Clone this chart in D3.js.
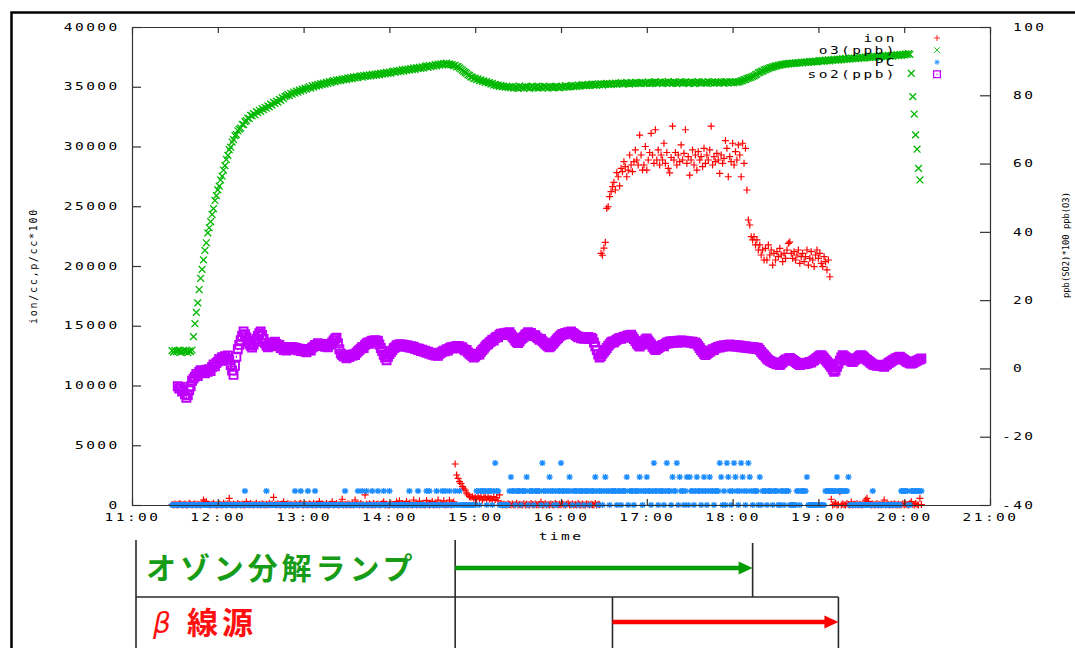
<!DOCTYPE html>
<html>
<head>
<meta charset="utf-8">
<script src="https://cdn.jsdelivr.net/npm/d3@7"></script>
<style>
body { margin: 0; background: #fff; }
svg { display: block; }
</style>
</head>
<body>
<div id="chart"></div>
<script>
var W = 1075, H = 648;
var margin = {left: 132, right: 85, top: 27, bottom: 143};

// one sample per minute, first sample at 11:28
var sampleStart = "11:28";

// ion/cc
var ionValues = [
  // 11:28-11:59
  40,0,80,20,0,120,60,0,30,90,10,0,150,70,0,40,110,0,60,20,0,180,420,250,280,90,30,0,60,140,20,0,
  // 12:00
  0,90,30,0,140,60,0,100,560,40,0,80,20,0,130,50,0,90,10,0,280,60,0,120,30,0,70,150,0,40,
  0,110,20,0,60,0,140,30,80,640,50,0,100,20,0,90,280,0,40,130,0,60,10,0,120,30,0,80,150,20,
  // 13:00
  0,70,30,0,110,50,0,140,20,0,60,300,0,90,30,0,120,10,0,80,280,0,50,130,0,20,90,480,0,60,
  0,110,30,0,150,0,420,40,80,0,120,20,0,840,60,0,100,30,0,140,0,50,90,0,20,130,280,0,60,10,
  // 14:00
  0,100,40,0,70,280,0,350,20,120,0,60,300,0,150,30,0,420,90,0,40,330,0,110,20,0,380,60,0,140,
  300,0,80,20,410,0,130,50,350,0,90,30,400,0,120,260,3430,2510,2230,1950,1810,1530,1400,1250,1000,850,700,640,700,560,
  // 15:00
  620,480,750,530,680,400,590,720,450,640,500,560,380,700,460,620,350,840,120,0,60,20,0,110,40,0,90,0,30,140,
  0,50,20,0,100,0,70,30,0,120,40,0,90,20,0,60,250,0,30,110,0,40,0,80,20,0,130,50,0,70,
  // 16:00
  0,100,30,0,60,140,0,20,90,0,50,0,120,30,0,80,10,0,110,40,0,70,20,0,130,0,60,30,
  21060,20900,21500,21980,24830,24960,25800,26220,26640,27000,26360,27810,27470,26700,28170,27890,
  28730,28310,27470,28030,29290,28450,27890,28730,29710,28870,28450,30960,29290,28030,28450,30000,
  // 17:00
  28030,28870,29500,31100,29290,28590,31400,28870,29710,28450,29290,28870,30270,28590,29500,28170,27800,29080,31700,28870,
  29500,28450,29290,28730,30130,28870,29430,31400,28590,29150,27600,28870,29710,28450,29290,28030,29570,28870,29150,28310,
  29850,28590,29290,28870,29710,31700,28450,29150,28730,29430,28870,27750,29290,28590,29010,30500,29850,27470,29150,28730,
  // 18:00
  30270,28450,29570,28870,30130,29290,27470,30270,28590,29850,26360,23850,23430,22450,22180,22450,21760,22180,21340,21760,
  20920,21340,20500,21480,20500,21760,20920,21340,20080,21060,20500,21200,20780,21480,20920,20360,21060,20640,21340,21900,
  22000,21060,20640,21200,20500,20920,21340,20220,20780,21060,20360,20780,21340,20080,20640,21200,20500,19950,20920,21340,
  // 19:00
  20640,21060,20220,19950,20780,20360,19670,20500,19100,
  480,0,60,140,0,30,1110,0,90,20,0,120,50,0,250,0,80,30,110,0,60,0,20,140,410,560,300,40,0,90,
  0,20,120,0,50,0,80,420,0,140,30,0,60,0,100,20,0,70,0,30,110,
  // 20:00
  0,80,20,0,150,280,60,0,120,30,0,560,40
];

// o3 in ppb (right axis)
var o3Values = [
  // 11:28-11:59
  5.2,4.8,5.3,4.9,5.1,5.4,4.7,5.0,5.3,4.9,5.2,4.6,5.1,5.0,5.4,
  9.3,13.1,16.4,19.2,23.1,26.4,29.0,31.8,34.6,36.8,39.7,41.2,43.0,45.1,46.8,49.2,50.6,
  // 12:00
  52.3,53.4,55.2,56.3,58.1,59.4,61.2,62.4,64.1,64.8,66.3,67.0,68.2,68.5,69.6,70.1,70.4,71.5,71.4,72.3,
  72.6,73.3,73.2,74.1,74.0,74.6,74.3,75.2,74.9,75.6,75.3,76.1,75.8,76.5,76.2,76.9,76.6,77.4,77.1,77.9,
  77.6,78.3,78.0,78.8,78.5,79.3,79.0,79.6,79.9,80.3,79.9,80.6,80.3,80.9,80.6,81.2,80.9,81.5,81.2,81.8,
  // 13:00
  81.5,82.0,81.8,82.2,82.5,82.1,82.8,82.4,83.0,82.7,83.2,82.9,83.4,83.1,83.6,83.3,83.8,83.5,84.0,83.7,
  84.1,84.3,83.9,84.5,84.2,84.6,84.3,84.8,84.5,84.9,84.6,85.1,84.8,85.2,84.9,85.4,85.1,85.5,85.2,85.5,
  85.7,85.3,85.8,85.5,85.9,85.6,86.0,85.7,86.1,85.8,86.2,85.9,86.3,86.0,86.5,86.2,86.6,86.3,86.7,86.4,
  // 14:00
  86.8,86.5,86.9,87.1,86.7,87.2,86.9,87.3,87.0,87.5,87.1,87.6,87.3,87.7,87.4,87.8,87.5,88.0,87.6,88.1,
  87.8,88.2,87.9,88.3,88.0,88.4,88.6,88.2,88.7,88.4,88.8,88.5,89.0,88.6,89.1,88.8,89.2,88.9,89.3,89.1,
  89.4,89.0,89.2,88.9,89.0,88.6,88.8,88.3,88.4,88.0,87.7,87.4,87.0,86.7,86.4,86.0,85.8,85.4,85.3,84.9,
  // 15:00
  85.0,84.6,84.8,84.3,84.5,84.1,84.2,83.8,84.0,83.6,83.7,83.3,83.5,83.0,83.2,82.8,83.0,82.6,82.9,82.5,
  82.7,82.4,82.6,82.3,82.5,82.2,82.6,82.1,82.5,82.3,82.0,82.7,82.2,82.4,82.1,82.6,82.3,82.5,82.0,82.4,
  82.7,82.2,82.3,82.6,82.1,82.5,82.4,82.2,82.7,82.3,82.5,82.1,82.6,82.4,82.2,82.5,82.3,82.7,82.4,82.2,
  // 16:00
  82.6,82.5,82.3,82.8,82.4,82.6,82.5,82.6,82.9,82.5,82.8,82.6,83.0,82.7,82.9,83.1,82.8,83.0,82.8,83.2,
  82.9,83.1,83.3,82.9,83.2,83.0,83.3,83.1,83.4,83.0,83.3,83.2,83.5,83.1,83.4,83.2,83.5,83.3,83.6,83.2,
  83.5,83.4,83.7,83.3,83.6,83.4,83.7,83.5,83.3,83.7,83.5,83.4,83.8,83.6,83.5,83.7,83.4,83.8,83.6,83.5,
  // 17:00
  83.6,83.9,83.4,83.8,83.5,83.7,84.0,83.5,83.8,83.6,83.9,83.4,83.7,83.8,83.5,84.0,83.6,83.8,83.5,83.9,
  83.7,83.4,83.8,83.6,84.0,83.5,83.7,83.9,83.6,83.8,83.5,83.9,83.7,83.4,83.8,83.6,84.0,83.7,83.5,83.9,
  83.6,83.8,83.5,84.0,83.7,83.6,83.9,83.5,83.8,83.7,83.9,83.6,84.0,83.7,83.5,83.9,83.8,83.6,84.0,83.7,
  // 18:00
  83.9,83.6,84.0,83.8,83.9,84.0,84.2,84.3,84.6,84.6,84.9,85.0,85.2,85.3,85.5,85.7,86.0,86.2,86.6,86.7,
  87.0,87.1,87.4,87.5,87.7,87.8,88.1,88.1,88.3,88.4,88.6,88.6,88.8,88.8,89.0,89.0,89.1,89.1,89.3,89.2,
  89.4,89.2,89.5,89.3,89.5,89.4,89.6,89.4,89.7,89.5,89.7,89.6,89.8,89.6,89.9,89.7,89.9,89.8,90.0,89.8,
  // 19:00
  90.0,90.2,89.9,90.2,90.0,90.3,90.1,90.4,90.1,90.4,90.2,90.5,90.3,90.6,90.3,90.6,90.4,90.7,90.5,90.8,
  90.5,90.8,90.6,90.9,90.7,90.9,90.7,91.0,90.8,91.1,90.9,91.1,90.9,91.2,91.0,91.3,91.0,91.3,91.1,91.4,
  91.2,91.4,91.2,91.5,91.3,91.6,91.3,91.6,91.4,91.7,91.5,91.7,91.5,91.8,91.6,91.9,91.6,91.9,91.7,92.0,
  // 20:00
  91.8,92.1,91.9,92.2,92.0,86.4,79.6,74.5,68.4,64.2,58.6,55.2,null
];

// PC counts per minute, plotted as p/cc*100
var pcCounts = [
  // 11:28-11:59
  0,0,0,0,0,0,0,0,0,0,0,0,0,0,0,0,0,0,0,0,0,0,0,0,0,0,0,0,0,0,0,0,
  // 12:00
  0,0,0,0,0,0,0,0,0,0,0,0,0,0,0,0,0,0,0,1,0,0,0,0,0,0,0,0,0,0,
  0,0,0,0,1,0,0,0,0,0,0,0,0,0,0,0,0,0,0,0,0,0,0,0,1,0,0,0,1,0,
  // 13:00
  0,0,0,1,0,0,0,0,1,0,0,0,0,0,0,0,0,0,0,0,0,0,0,0,0,0,0,0,0,1,
  0,0,0,0,0,0,0,0,1,0,0,1,0,0,1,0,0,0,1,0,0,0,1,0,0,0,1,0,0,0,
  // 14:00
  1,0,0,0,0,0,0,0,0,0,0,0,0,0,1,0,0,0,0,0,1,0,0,0,0,0,1,0,1,0,
  0,0,0,1,0,0,0,1,0,1,0,0,1,0,0,0,1,0,0,1,0,0,0,0,0,0,0,0,0,0,
  // 15:00
  0,1,1,0,1,1,1,1,0,1,1,1,0,1,3,1,1,0,0,0,0,0,0,0,1,2,1,1,0,1,
  1,1,0,1,1,1,2,0,1,1,1,0,1,1,1,1,0,3,1,1,0,1,2,1,1,0,1,0,1,1,
  // 16:00
  3,1,1,0,1,1,2,1,0,1,1,1,0,1,1,1,0,1,1,1,0,1,1,1,2,1,0,1,1,0,
  1,2,1,1,0,1,1,1,1,0,1,1,0,1,1,1,2,0,1,1,1,0,1,1,1,2,1,0,1,1,
  // 17:00
  2,1,1,0,1,3,1,1,0,1,1,1,0,1,3,1,1,0,2,1,1,3,0,2,1,1,0,1,2,0,
  2,1,1,0,1,2,1,1,0,1,2,1,0,1,2,1,1,0,1,1,1,3,2,0,1,0,3,2,1,0,
  // 18:00
  1,3,2,1,0,1,3,2,1,0,1,3,2,1,0,1,1,1,0,2,0,1,1,1,0,1,1,1,0,1,
  1,1,0,0,1,1,0,1,1,1,0,0,0,0,0,1,1,0,1,1,1,1,2,0,0,0,0,0,0,0,
  // 19:00
  0,0,0,0,0,1,1,1,1,1,1,1,1,2,1,1,1,1,1,1,1,2,0,0,0,0,0,0,0,0,
  0,0,0,0,0,0,0,0,1,0,0,0,0,0,0,0,0,0,0,0,0,0,0,0,0,0,0,0,1,1,
  // 20:00
  1,1,1,0,0,1,1,1,1,1,1,1,1
];
var pcUnit = 1170;

// so2 in ppb*100 (right axis)
var so2Values = [
  // 11:28-11:59
  null,null,null,null,
  -5.2,-5.9,-5.4,-6.8,-6.3,-7.6,-8.6,-7.9,-6.4,-5.2,-3.6,-3.0,-2.4,-1.6,-2.2,-1.0,-0.5,-1.3,-0.8,-1.4,
  -0.4,-1.0,-0.2,-0.8,0.4,1.2,0.6,1.6,
  // 12:00
  2.0,2.8,2.2,3.3,2.7,3.6,3.0,3.8,2.4,1.0,-0.6,-1.9,0.8,3.4,5.6,6.9,8.3,9.6,10.8,10.0,
  9.1,8.0,7.2,6.6,6.1,7.0,7.8,8.6,9.5,10.3,10.8,9.8,8.6,7.4,6.7,6.2,7.1,6.5,7.6,7.0,
  7.8,7.2,6.6,6.9,6.0,6.3,5.4,5.9,5.2,6.1,5.6,6.3,5.7,6.2,5.5,6.0,5.3,5.8,5.1,5.7,
  // 13:00
  5.0,5.4,4.7,5.3,5.6,5.2,6.1,6.4,6.9,6.6,7.4,7.0,6.6,7.2,6.8,6.3,6.7,6.2,6.9,7.2,
  7.6,8.2,8.7,9.0,7.4,5.6,4.4,3.9,3.5,3.8,3.0,3.6,3.3,4.0,3.7,4.2,3.9,4.6,5.0,5.4,
  5.8,6.3,6.0,6.9,7.3,7.6,7.2,7.9,8.1,7.7,8.3,7.9,8.1,7.0,6.0,5.1,4.0,3.2,2.4,3.4,
  // 14:00
  4.2,4.8,5.3,5.9,6.2,6.8,6.4,7.1,6.6,7.0,6.5,6.9,6.3,6.7,6.1,6.5,6.0,6.4,5.7,5.9,
  5.4,5.8,5.1,5.5,4.9,5.2,4.6,4.9,4.3,4.6,4.0,4.4,3.8,4.1,3.7,4.3,4.6,4.9,5.2,5.0,
  5.6,5.2,5.9,6.2,5.8,6.4,6.0,6.6,6.2,6.5,5.9,6.2,5.6,5.2,5.4,4.7,4.3,4.0,3.6,3.2,
  // 15:00
  3.5,3.9,4.3,4.1,4.9,5.4,5.8,6.4,6.9,7.1,7.6,7.9,8.4,8.2,8.9,9.3,9.1,9.9,10.2,9.8,
  10.3,10.0,10.5,10.1,10.6,9.9,9.3,8.8,8.2,7.7,7.4,7.9,8.5,8.9,9.3,9.9,10.2,10.6,10.1,10.4,
  9.8,9.5,9.7,9.1,8.8,8.4,8.6,8.0,7.6,7.2,6.8,6.5,6.2,6.6,7.1,7.5,8.0,8.5,8.9,9.4,
  // 16:00
  9.7,10.1,9.9,10.4,10.2,10.6,10.3,10.8,10.4,10.2,9.8,9.5,9.1,9.3,8.8,9.1,8.7,9.0,8.8,9.2,
  8.6,9.0,8.7,7.6,6.5,5.4,4.1,3.2,3.6,4.3,4.9,5.4,6.0,6.6,7.1,7.6,7.9,7.6,8.1,8.4,
  8.6,8.9,8.7,9.1,9.3,9.0,9.5,9.7,9.4,9.9,9.3,8.6,8.0,7.3,6.8,6.4,6.9,7.4,7.9,8.5,
  // 17:00
  8.8,8.2,7.6,7.0,6.3,5.8,5.4,5.7,6.0,6.3,6.6,6.9,6.5,7.2,7.6,7.3,7.9,7.5,8.0,7.6,
  7.9,7.5,8.1,7.7,8.2,7.8,8.1,7.6,8.0,7.7,7.9,7.5,7.8,7.3,7.6,7.2,6.6,6.0,5.4,4.9,
  4.3,3.9,4.3,4.6,4.9,5.2,5.6,5.4,5.9,6.1,6.4,6.1,6.6,6.3,6.8,6.5,6.9,6.6,7.0,6.8,
  // 18:00
  6.5,6.9,6.4,6.8,6.3,6.7,6.2,6.6,6.1,6.5,6.0,6.4,5.9,6.3,5.8,6.2,5.7,6.1,5.9,5.4,
  4.8,4.3,3.9,3.4,2.9,2.5,2.2,2.0,1.8,1.6,1.4,1.2,1.5,1.0,1.4,1.8,2.2,2.6,2.4,2.9,
  3.1,2.8,2.5,2.2,1.9,1.6,1.3,1.0,1.3,1.2,1.5,1.3,1.7,1.5,1.9,1.7,2.2,2.4,2.8,3.1,
  // 19:00
  3.4,3.7,3.9,3.5,3.0,2.5,2.0,1.5,1.0,0.4,-0.3,-1.0,-0.6,0.5,1.4,2.3,3.2,3.9,3.6,3.3,
  3.0,2.7,2.3,2.0,1.9,2.3,2.7,3.0,3.4,3.7,3.9,3.6,3.2,2.8,2.5,2.2,1.8,1.5,1.2,1.0,
  0.9,0.8,1.1,0.7,0.9,0.6,0.5,0.9,1.2,1.6,1.8,2.1,2.4,2.6,2.9,3.1,3.3,3.4,3.1,2.8,
  // 20:00
  2.5,2.2,1.9,1.7,1.5,1.4,1.6,1.9,2.1,2.3,2.5,2.7,2.9
];

var hourTicks = ["11:00","12:00","13:00","14:00","15:00","16:00","17:00","18:00","19:00","20:00","21:00"];
var leftTicks = [0,5000,10000,15000,20000,25000,30000,35000,40000];
var rightTicks = [-40,-20,0,20,40,60,80,100];
var seriesNames = ["ion","o3(ppb)","PC","so2(ppb)"];

// bottom annotation: operating periods
var lampPeriod = ["14:46","18:14"];
var betaPeriod = ["16:36","19:14"];

var parseHM = d3.timeParse("%H:%M");
var fmtHM = d3.timeFormat("%H:%M");
var t0 = parseHM(sampleStart);

var svg = d3.select("#chart").append("svg")
    .attr("width", W)
    .attr("height", H);

var x = d3.scaleTime()
    .domain([parseHM(hourTicks[0]), parseHM(hourTicks[hourTicks.length-1])])
    .range([margin.left, W - margin.right]);
var yL = d3.scaleLinear().domain([0, 40000]).range([H - margin.bottom, margin.top]);
var yR = d3.scaleLinear().domain([-40, 100]).range([H - margin.bottom, margin.top]);

var gpFont = '"DejaVu Sans Mono", monospace';
var sx = 1.45;  // gnuplot-like wide glyphs

// outer frame (top and left edges)
svg.append("path")
    .attr("d", "M11.5," + H + "V12.5H" + W)
    .attr("fill", "none")
    .attr("stroke", "#000")
    .attr("stroke-width", 2.5);

// markers
var markerPath = {
  plus:  "M-3.5,0H3.5M0,-3.5V3.5",
  cross: "M-3.4,-3.4L3.4,3.4M-3.4,3.4L3.4,-3.4",
  star:  "M-3.2,0H3.2M0,-3V3M-2.3,-2.3L2.3,2.3M-2.3,2.3L2.3,-2.3",
  box:   "M-4,-4H4V4H-4ZM-0.6,0H0.6"
};

var series = [
  {name: seriesNames[0], values: ionValues, y: yL, color: "#ff0000", shape: "plus", sw: 1.2},
  {name: seriesNames[1], values: o3Values, y: yR, color: "#00b800", shape: "cross", sw: 1.3},
  {name: seriesNames[2], values: pcCounts.map(function(c){ return c * pcUnit; }), y: yL, color: "#1a8cff", shape: "star", sw: 1.3},
  {name: seriesNames[3], values: so2Values, y: yR, color: "#c000ff", shape: "box", sw: 1.9}
];

var plot = svg.append("g");
series.forEach(function(s){
  var pts = s.values.map(function(v, i){
    return {t: d3.timeMinute.offset(t0, i), v: v};
  }).filter(function(d){ return d.v != null; });
  plot.append("g")
      .selectAll("path")
      .data(pts)
    .enter().append("path")
      .attr("transform", function(d){ return "translate(" + x(d.t) + "," + s.y(d.v) + ")"; })
      .attr("d", markerPath[s.shape])
      .attr("fill", "none")
      .attr("stroke", s.color)
      .attr("stroke-width", s.sw);
});

// axes
var hours = hourTicks.map(parseHM);
function styleAxis(g){
  g.select(".domain").attr("stroke", "#333").attr("stroke-width", 1.2);
  g.selectAll(".tick line").attr("stroke", "#333").attr("stroke-width", 1.2);
  g.selectAll(".tick text")
      .attr("font-family", gpFont)
      .attr("font-size", 10)
      .attr("fill", "#000")
      .style("letter-spacing", "1.7px");
}

var gx = svg.append("g")
    .attr("transform", "translate(0," + (H - margin.bottom) + ")")
    .call(d3.axisBottom(x).tickValues(hours).tickFormat(fmtHM).tickSizeInner(-6).tickSizeOuter(0).tickPadding(8.5));
styleAxis(gx);
gx.selectAll(".tick text").attr("transform", "scale(" + sx + ",1)");

var gxTop = svg.append("g")
    .attr("transform", "translate(0," + margin.top + ")")
    .call(d3.axisTop(x).tickValues(hours).tickFormat("").tickSizeInner(-6).tickSizeOuter(0));
styleAxis(gxTop);

var gyL = svg.append("g")
    .attr("transform", "translate(" + margin.left + ",0)")
    .call(d3.axisLeft(yL).tickValues(leftTicks).tickFormat(d3.format("d")).tickSizeInner(-9).tickSizeOuter(0).tickPadding(14));
styleAxis(gyL);
gyL.selectAll(".tick text")
    .attr("x", -12.3 / sx)
    .attr("transform", "scale(" + sx + ",1)");

var gyR = svg.append("g")
    .attr("transform", "translate(" + (W - margin.right) + ",0)")
    .call(d3.axisRight(yR).tickValues(rightTicks).tickFormat(d3.format("d")).tickSizeInner(-10).tickSizeOuter(0).tickPadding(23));
styleAxis(gyR);
gyR.selectAll(".tick text")
    .text(function(d){ return String(d); })
    .attr("x", function(d){ return (d < 0 ? 12 : 23) / sx; })
    .attr("transform", "scale(" + sx + ",1)");

// axis titles
svg.append("text")
    .attr("transform", "translate(" + (x.range()[0] + x.range()[1]) / 2 + "," + 539.5 + ") scale(" + sx + ",1)")
    .attr("text-anchor", "middle")
    .attr("font-family", gpFont)
    .attr("font-size", 10)
    .style("letter-spacing", "1.7px")
    .text("time");

svg.append("text")
    .attr("transform", "translate(36.5," + (margin.top + H - margin.bottom) / 2 + ") rotate(-90)")
    .attr("text-anchor", "middle")
    .attr("font-family", gpFont)
    .attr("font-size", 10)
    .style("letter-spacing", "1.7px")
    .text("ion/cc,p/cc*100");

svg.append("text")
    .attr("transform", "translate(1069,245) rotate(-90)")
    .attr("text-anchor", "middle")
    .attr("font-family", gpFont)
    .attr("font-size", 8.8)
    .text("ppb(SO2)*100 ppb(O3)");

// legend
var legend = svg.append("g").attr("transform", "translate(0,38)");
series.forEach(function(s, i){
  var row = legend.append("g").attr("transform", "translate(0," + (i * 12.1) + ")");
  row.append("text")
      .attr("transform", "translate(897,3.6) scale(" + sx + ",1)")
      .attr("text-anchor", "end")
      .attr("font-family", gpFont)
      .attr("font-size", 10)
      .style("letter-spacing", "1.7px")
      .text(s.name);
  row.append("path")
      .attr("transform", "translate(937,0) scale(0.85)")
      .attr("d", markerPath[s.shape])
      .attr("fill", "none")
      .attr("stroke", s.color)
      .attr("stroke-width", s.sw * 0.8);
});

// bottom annotation table
var lineCol = "#2a2a2a";
var tableLeft = 136, rowMid = 597, tableTop = 540;
var lampX = lampPeriod.map(function(t){ return x(parseHM(t)); });
var betaX = betaPeriod.map(function(t){ return x(parseHM(t)); });
var ann = svg.append("g").attr("stroke", lineCol).attr("stroke-width", 1.6).attr("fill", "none");
ann.append("line").attr("x1", tableLeft).attr("x2", tableLeft).attr("y1", tableTop).attr("y2", H);
ann.append("line").attr("x1", lampX[0]).attr("x2", lampX[0]).attr("y1", tableTop).attr("y2", H);
ann.append("line").attr("x1", lampX[1]).attr("x2", lampX[1]).attr("y1", tableTop + 3).attr("y2", rowMid);
ann.append("line").attr("x1", tableLeft).attr("x2", betaX[1]).attr("y1", rowMid).attr("y2", rowMid);
ann.append("line").attr("x1", betaX[0]).attr("x2", betaX[0]).attr("y1", rowMid).attr("y2", H);
ann.append("line").attr("x1", betaX[1]).attr("x2", betaX[1]).attr("y1", rowMid).attr("y2", H);

function arrow(x0, x1, y, color){
  svg.append("line")
      .attr("x1", x0).attr("x2", x1 - 10).attr("y1", y).attr("y2", y)
      .attr("stroke", color).attr("stroke-width", 4.5);
  svg.append("path")
      .attr("d", "M" + x1 + "," + y + "L" + (x1 - 14) + "," + (y - 6.5) + "L" + (x1 - 14) + "," + (y + 6.5) + "Z")
      .attr("fill", color);
}
arrow(lampX[0], lampX[1], 568, "#009c00");
arrow(betaX[0], betaX[1], 622, "#ff0000");

svg.append("text")
    .attr("x", 146).attr("y", 579)
    .attr("font-family", '"Noto Sans CJK JP", sans-serif')
    .attr("font-size", 30)
    .attr("font-weight", 700)
    .attr("fill", "#179c17")
    .style("letter-spacing", "3.9px")
    .text("オゾン分解ランプ");

svg.append("text")
    .attr("x", 153).attr("y", 633)
    .attr("font-family", '"DejaVu Sans", sans-serif')
    .attr("font-size", 28)
    .attr("font-style", "italic")
    .attr("fill", "#ff1010")
    .text("β");

svg.append("text")
    .attr("x", 187).attr("y", 634)
    .attr("font-family", '"Noto Sans CJK JP", sans-serif')
    .attr("font-size", 31)
    .attr("font-weight", 700)
    .attr("fill", "#ff1010")
    .style("letter-spacing", "4px")
    .text("線源");
</script>
</body>
</html>
